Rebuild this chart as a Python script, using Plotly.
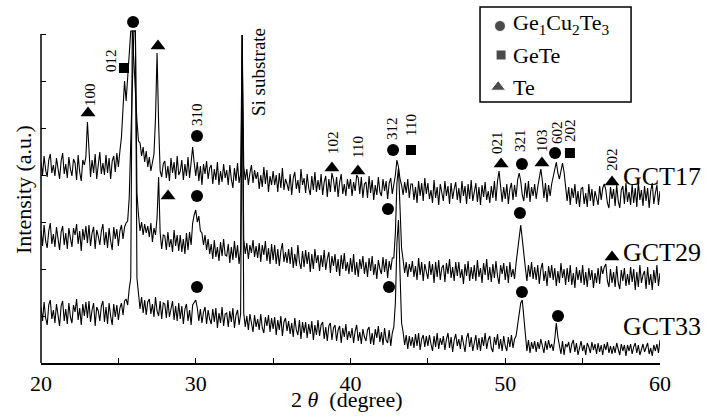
import numpy as np
import plotly.graph_objects as go

# 2-theta grid (degrees), 0.1 deg step
two_theta = np.round(np.arange(20.0, 60.0001, 0.1), 1)

# Stacked intensities (a.u.), one row per degree
gct17 = [
    201, 188, 207, 193, 186, 203, 209, 190, 198, 187,
    205, 192, 184, 202, 210, 189, 199, 185, 206, 194,
    187, 204, 200, 183, 208, 191, 182, 203, 198, 206,
    241, 214, 186, 203, 190, 209, 184, 198, 211, 189,
    200, 188, 208, 190, 205, 184, 202, 207, 191, 210,
    196, 212, 226, 255, 282, 262, 286, 300, 332, 332,
    300, 262, 242, 222, 220, 207, 216, 201, 212, 196,
    206, 192, 203, 209, 245, 310, 240, 192, 186, 199,
    202, 185, 197, 182, 205, 190, 201, 184, 207, 188,
    192, 203, 183, 199, 187, 206, 185, 200, 216, 200,
    187, 201, 182, 197, 178, 199, 189, 202, 184, 195,
    198, 179, 194, 183, 201, 178, 192, 181, 199, 185,
    193, 178, 198, 184, 175, 195, 182, 200, 180, 189,
    328, 197, 183, 194, 178, 190, 198, 180, 193, 184,
    191, 174, 188, 176, 196, 179, 193, 171, 187, 178,
    192, 178, 188, 171, 190, 175, 195, 173, 184, 179,
    172, 189, 168, 185, 191, 174, 183, 170, 194, 178,
    185, 170, 189, 175, 168, 187, 173, 191, 171, 183,
    173, 189, 168, 181, 187, 166, 184, 171, 190, 183,
    171, 186, 166, 181, 189, 169, 179, 167, 184, 174,
    184, 167, 181, 172, 188, 185, 169, 186, 165, 179,
    181, 165, 187, 170, 183, 163, 178, 168, 186, 171,
    167, 184, 172, 182, 164, 180, 185, 169, 179, 188,
    203, 196, 184, 178, 168, 181, 170, 184, 165, 179,
    179, 163, 176, 160, 182, 167, 180, 162, 185, 169,
    180, 164, 173, 160, 183, 165, 176, 158, 179, 169,
    162, 182, 167, 177, 159, 180, 164, 174, 181, 163,
    175, 160, 182, 167, 177, 159, 179, 164, 183, 162,
    173, 180, 161, 176, 158, 178, 166, 181, 163, 172,
    160, 177, 165, 182, 162, 182, 192, 178, 161, 176,
    164, 179, 159, 174, 180, 163, 178, 166, 183, 190,
    182, 168, 162, 180, 165, 182, 161, 176, 167, 179,
    164, 176, 186, 194, 182, 165, 180, 161, 178, 167,
    179, 186, 192, 201, 190, 184, 192, 200, 191, 178,
    162, 176, 158, 175, 165, 179, 159, 172, 156, 174,
    176, 159, 170, 156, 179, 162, 174, 157, 172, 165,
    158, 177, 163, 175, 179, 173, 160, 155, 176, 164,
    174, 157, 178, 162, 155, 173, 177, 159, 180, 161,
    171, 158, 179, 160, 175, 156, 181, 163, 173, 157,
    177, 162, 175, 155, 172, 180, 159, 170, 178, 158,
    172,
]

gct29 = [
    133, 117, 138, 122, 115, 132, 140, 119, 129, 116,
    136, 123, 113, 131, 137, 118, 130, 114, 135, 125,
    116, 135, 128, 139, 119, 132, 112, 134, 123, 137,
    120, 138, 117, 130, 136, 114, 133, 127, 118, 132,
    139, 118, 131, 115, 135, 122, 113, 136, 124, 134,
    117, 132, 138, 124, 136, 140, 142, 165, 220, 300,
    332, 332, 170, 148, 132, 141, 128, 139, 130, 137,
    126, 140, 121, 135, 128, 145, 186, 130, 114, 128,
    127, 113, 131, 116, 124, 111, 133, 117, 128, 112,
    128, 111, 124, 109, 130, 113, 131, 118, 140, 148,
    153, 141, 147, 132, 130, 118, 128, 113, 124, 109,
    119, 104, 123, 106, 116, 102, 121, 107, 124, 108,
    107, 119, 100, 116, 103, 122, 105, 118, 99, 114,
    328, 124, 109, 120, 104, 118, 110, 123, 106, 117,
    105, 120, 101, 118, 108, 122, 102, 115, 99, 119,
    103, 118, 99, 114, 97, 112, 120, 101, 111, 100,
    114, 99, 116, 95, 109, 97, 118, 101, 94, 112,
    96, 113, 99, 111, 91, 109, 94, 114, 100, 108,
    92, 108, 96, 113, 93, 104, 111, 90, 107, 97,
    109, 91, 104, 87, 108, 94, 110, 92, 101, 89,
    105, 91, 109, 88, 101, 86, 104, 94, 107, 89,
    101, 86, 105, 92, 107, 88, 99, 84, 103, 94,
    89, 106, 91, 104, 85, 102, 93, 105, 105, 130,
    180, 195, 150, 115, 103, 90, 101, 86, 99, 91,
    102, 86, 97, 83, 105, 88, 101, 82, 99, 90,
    84, 102, 88, 99, 80, 101, 86, 103, 83, 95,
    98, 81, 100, 89, 104, 85, 96, 82, 101, 87,
    101, 85, 94, 79, 99, 87, 102, 82, 96, 84,
    98, 82, 103, 86, 95, 80, 100, 88, 104, 83,
    96, 81, 99, 85, 102, 87, 79, 98, 89, 100,
    83, 97, 80, 101, 86, 94, 84, 100, 115, 130,
    138, 124, 106, 95, 82, 98, 86, 101, 84, 96,
    83, 98, 79, 94, 100, 82, 92, 77, 97, 85,
    98, 83, 95, 77, 92, 80, 100, 85, 94, 78,
    95, 81, 98, 78, 90, 75, 96, 83, 93, 80,
    98, 78, 91, 76, 95, 83, 93, 75, 90, 80,
    95, 79, 97, 89, 96, 99, 82, 76, 94, 80,
    91, 76, 97, 80, 74, 93, 82, 95, 77, 89,
    78, 96, 81, 94, 73, 91, 76, 98, 80, 88,
    92, 74, 96, 78, 89, 73, 93, 80, 98, 77,
    90,
]

gct33 = [
    56, 42, 61, 45, 38, 58, 63, 44, 53, 40,
    59, 48, 37, 57, 62, 42, 54, 39, 60, 46,
    40, 58, 51, 64, 43, 55, 38, 59, 47, 61,
    45, 62, 41, 53, 60, 37, 56, 52, 42, 57,
    62, 41, 56, 39, 60, 47, 38, 59, 46, 58,
    43, 55, 60, 48, 62, 64, 58, 74, 85, 332,
    332, 332, 85, 68, 54, 66, 50, 63, 48, 61,
    64, 49, 59, 46, 66, 52, 47, 62, 44, 60,
    59, 45, 63, 46, 56, 62, 43, 57, 42, 60,
    44, 57, 39, 54, 59, 42, 53, 38, 58, 60,
    63, 55, 42, 54, 40, 51, 56, 39, 53, 44,
    39, 54, 41, 55, 35, 50, 40, 56, 37, 49,
    50, 36, 52, 41, 55, 35, 48, 53, 38, 49,
    328, 50, 36, 47, 33, 49, 38, 31, 48, 36,
    44, 33, 49, 35, 30, 46, 37, 48, 31, 45,
    34, 46, 28, 43, 33, 47, 27, 41, 45, 32,
    42, 29, 40, 26, 45, 33, 28, 43, 24, 41,
    30, 41, 25, 39, 29, 42, 23, 38, 28, 43,
    27, 38, 41, 24, 36, 22, 37, 40, 23, 35,
    38, 22, 33, 37, 20, 35, 26, 39, 23, 32,
    25, 35, 20, 32, 38, 22, 31, 19, 34, 26,
    22, 33, 36, 19, 30, 18, 34, 25, 37, 21,
    31, 18, 35, 23, 20, 33, 17, 30, 36, 60,
    120, 143, 90, 40, 31, 18, 28, 14, 27, 17,
    26, 15, 29, 17, 30, 13, 24, 28, 16, 27,
    17, 28, 19, 12, 27, 16, 30, 14, 25, 18,
    27, 13, 24, 30, 15, 26, 11, 23, 29, 17,
    24, 14, 28, 17, 11, 25, 30, 16, 26, 12,
    22, 28, 13, 25, 12, 26, 17, 30, 14, 23,
    27, 15, 11, 26, 18, 29, 14, 24, 12, 27,
    17, 12, 26, 16, 28, 15, 24, 27, 38, 52,
    60, 63, 46, 28, 12, 23, 10, 21, 14, 22,
    11, 21, 14, 24, 18, 10, 22, 13, 23, 15,
    19, 12, 24, 40, 26, 17, 9, 22, 8, 19,
    16, 21, 10, 19, 23, 11, 20, 8, 17, 22,
    12, 18, 8, 20, 16, 10, 21, 13, 19, 9,
    20, 11, 18, 8, 19, 13, 21, 10, 17, 9,
    17, 10, 20, 13, 8, 19, 12, 18, 7, 18,
    12, 19, 9, 16, 20, 10, 18, 8, 15, 19,
    11, 16, 20, 9, 15, 7, 18, 12, 19, 10,
    23,
]

series_names = ["GCT17", "GCT29", "GCT33"]

# Phase markers placed above the peaks (2theta, height)
circle_x = [25.95, 30.08, 42.75, 51.08, 53.22, 30.08, 42.42, 50.95, 30.08, 42.49, 51.08, 53.41]
circle_y = [341, 227, 213, 199, 210, 167, 154, 150, 76, 76, 71, 47]
square_x = [25.36, 43.91, 54.18]
square_y = [295, 213, 210]
triangle_x = [23.04, 27.56, 38.80, 40.48, 49.73, 52.37, 56.90, 28.21, 56.90]
triangle_y = [250, 317, 195, 192, 199, 200, 181, 167, 106]

# Miller index labels
hkl_text = ["100", "012", "310", "102", "110", "312", "110", "021", "321", "103", "602", "202", "202"]
hkl_x = [23.17, 24.52, 30.08, 38.87, 40.48, 42.68, 43.91, 49.47, 50.95, 52.37, 53.34, 54.18, 56.90]
hkl_y = [268, 303, 249, 220, 216, 235, 238, 220, 223, 223, 231, 233, 203]

y_tick_vals = [0, 47, 94, 141, 188, 235, 282, 329]

FONT = "Liberation Serif"

fig = go.Figure()
for vals in (gct17, gct29, gct33):
    fig.add_trace(go.Scatter(x=two_theta, y=vals, mode="lines",
                             line=dict(color="black", width=1.1),
                             hoverinfo="skip", showlegend=False))

fig.add_trace(go.Scatter(x=circle_x, y=circle_y, mode="markers", cliponaxis=False,
                         marker=dict(symbol="circle", size=12, color="black"),
                         hoverinfo="skip", showlegend=False))
fig.add_trace(go.Scatter(x=square_x, y=square_y, mode="markers", cliponaxis=False,
                         marker=dict(symbol="square", size=10, color="black"),
                         hoverinfo="skip", showlegend=False))
fig.add_trace(go.Scatter(x=triangle_x, y=triangle_y, mode="markers", cliponaxis=False,
                         marker=dict(symbol="triangle-up", size=13, color="black"),
                         hoverinfo="skip", showlegend=False))

# legend symbols
fig.add_trace(go.Scatter(x=[49.66, 49.73, 49.54], y=[337, 308, 276], mode="markers",
                         cliponaxis=False,
                         marker=dict(symbol=["circle", "square", "triangle-up"],
                                     size=[11, 10, 13], color="black"),
                         hoverinfo="skip", showlegend=False))

annotations = []
for t, x, y in zip(hkl_text, hkl_x, hkl_y):
    annotations.append(dict(x=x, y=y, xref="x", yref="y", text=t, textangle=-90,
                            showarrow=False, font=dict(family=FONT, size=15, color="black"),
                            xanchor="center", yanchor="middle"))

annotations.append(dict(x=34.03, y=291, xref="x", yref="y", text="Si substrate", textangle=-90,
                        showarrow=False, font=dict(family=FONT, size=19, color="black"),
                        xanchor="center", yanchor="middle"))

for name, y in zip(series_names, [187, 111, 37]):
    annotations.append(dict(x=57.45, y=y, xref="x", yref="y", text=name, showarrow=False,
                            font=dict(family=FONT, size=26, color="black"),
                            xanchor="left", yanchor="middle"))

legend_text = ["Ge<sub>1</sub>Cu<sub>2</sub>Te<sub>3</sub>", "GeTe", "Te"]
for t, y in zip(legend_text, [339, 308, 276]):
    annotations.append(dict(x=50.35, y=y, xref="x", yref="y", text=t, showarrow=False,
                            font=dict(family=FONT, size=22, color="black"),
                            xanchor="left", yanchor="middle"))

# axis titles
annotations.append(dict(x=(347 - 41) / 619, y=(363 - 399) / 358, xref="paper", yref="paper",
                        text="2\u00a0<i>θ</i>\u00a0\u00a0(degree)", showarrow=False,
                        font=dict(family=FONT, size=22, color="black"),
                        xanchor="center", yanchor="middle"))
annotations.append(dict(x=(24 - 41) / 619, y=(363 - 190) / 358, xref="paper", yref="paper",
                        text="Intensity (a.u.)", textangle=-90, showarrow=False,
                        font=dict(family=FONT, size=22, color="black"),
                        xanchor="center", yanchor="middle"))

fig.update_layout(
    width=719, height=417,
    margin=dict(l=41, r=59, t=5, b=54, autoexpand=False),
    paper_bgcolor="white", plot_bgcolor="white",
    font=dict(family=FONT, color="black"),
    annotations=annotations,
    shapes=[
        dict(type="line", xref="paper", yref="paper", x0=0, x1=0, y0=0, y1=329 / 358,
             line=dict(color="black", width=1.5)),
        dict(type="rect", xref="x", yref="y", x0=48.37, x1=58.13, y0=261, y1=356,
             line=dict(color="black", width=1.5), fillcolor="rgba(0,0,0,0)"),
    ],
    xaxis=dict(range=[20, 60], showgrid=False, zeroline=False, showline=True, automargin=False,
               linecolor="black", linewidth=1.5, ticks="inside", ticklen=5,
               tickcolor="black", tickwidth=1, tick0=20, dtick=10,
               minor=dict(dtick=5, ticks="inside", ticklen=5, tickcolor="black", tickwidth=1,
                          showgrid=False),
               tickfont=dict(family=FONT, size=22, color="black")),
    yaxis=dict(range=[0, 358], showgrid=False, zeroline=False, showline=False, automargin=False,
               ticks="inside", ticklen=5, tickcolor="black", tickwidth=1,
               tickvals=y_tick_vals, showticklabels=False),
)

fig.write_html(
    "out.html",
    config={"displayModeBar": False},
    post_script="document.body.style.margin='0';document.body.style.padding='0';"
                "document.documentElement.style.overflow='hidden';",
)
